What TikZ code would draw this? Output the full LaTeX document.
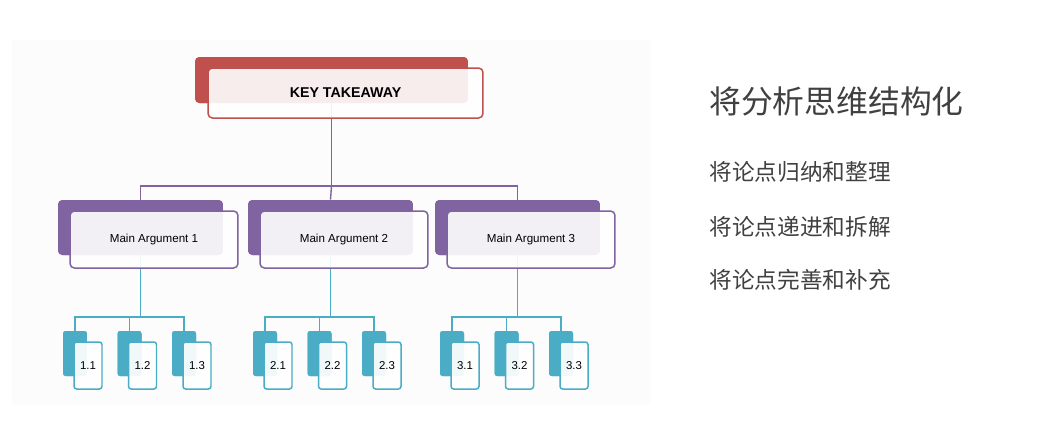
\documentclass[tikz,border=0pt]{standalone}
\usepackage{fontspec}
\setmainfont{Liberation Sans}
\newfontfamily\cjk{Noto Sans CJK SC}
\usetikzlibrary{calc}

\definecolor{keyred}{HTML}{C0504D}
\definecolor{argpurple}{HTML}{8064A2}
\definecolor{subteal}{HTML}{4BACC6}
\definecolor{textgray}{HTML}{404040}

\tikzset{
  box/.style={draw=none, rounded corners=2.5pt, inner sep=0pt, anchor=center},
  keyback/.style={box, fill=keyred, minimum width=5.46cm, minimum height=0.92cm},
  keyfront/.style={box, draw=keyred, line width=0.85pt, fill=white, fill opacity=0.9,
    text opacity=1, minimum width=5.5cm, minimum height=1.0cm,
    font=\fontsize{8.1}{9}\selectfont\bfseries},
  argback/.style={box, fill=argpurple, minimum width=3.3cm, minimum height=1.1cm},
  argfront/.style={box, draw=argpurple, line width=0.85pt, fill=white, fill opacity=0.9,
    text opacity=1, minimum width=3.36cm, minimum height=1.14cm,
    font=\fontsize{6.6}{8}\selectfont},
  subback/.style={box, rounded corners=1.5pt, fill=subteal, minimum width=0.48cm, minimum height=0.9cm},
  subfront/.style={box, rounded corners=1.5pt, draw=subteal, line width=0.85pt, fill=white,
    fill opacity=0.92, text opacity=1, minimum width=0.56cm, minimum height=0.94cm,
    font=\fontsize{6.5}{8}\selectfont},
  purpline/.style={draw=argpurple, line width=0.8pt},
  tealline/.style={draw=subteal, line width=0.8pt},
  sidetext/.style={anchor=west, inner sep=0pt, text=textgray}
}

\begin{document}
\begin{tikzpicture}[x=0.02cm, y=-0.02cm]

\useasboundingbox (0,0) rectangle (1050,434);

% faint backdrop behind the chart
\fill[black!1.2] (12,40) rectangle (650,405);

% top box
\node[keyback] (keyb) at (331.5,80) {};

% main arguments and their points
\foreach \g/\dx in {1/0,2/190,3/377}{
  \node[argback] (m\g b) at (140.5+\dx,227.5) {};
  \coordinate (bus\g) at (140.5+\dx,317);
  \foreach \k/\ex in {1/0,2/54.5,3/109}{
    \node[subback] (s\g\k b) at (75+\dx+\ex,353.5) {};
  }
}

% connectors (drawn under the boxes)
\coordinate (bus) at (keyb.center |- 0,186);
\draw[purpline] (keyb.center) -- (bus);
\draw[purpline] (m1b.north) |- (bus) -| (m3b.north);
\draw[purpline] (bus) -- (m2b.north);
\foreach \g in {1,2,3}{
  \draw[tealline] (m\g b.center) -- (bus\g);
  \draw[tealline] (s\g1b.north) |- (bus\g) -| (s\g3b.north);
  \draw[tealline] (s\g2b.north) -- (s\g2b.north |- bus\g);
}

% back boxes again, on top of the lines
\node[keyback] at (keyb) {};
\foreach \g in {1,2,3}{
  \node[argback] at (m\g b) {};
  \foreach \k in {1,2,3}{
    \node[subback] at (s\g\k b) {};
  }
}

% front boxes
\node[keyfront] (key) at (345.5,93) {KEY TAKEAWAY};
\foreach \g/\dx in {1/0,2/190,3/377}{
  \node[argfront] (m\g) at (154+\dx,239.5) {Main Argument \g};
  \foreach \k/\ex in {1/0,2/54.5,3/109}{
    \node[subfront] (s\g\k) at (88+\dx+\ex,365.5) {\g.\k};
  }
}

% side text
\node[sidetext, font=\cjk\fontsize{18.1}{20}\selectfont] (title) at (709,101) {将分析思维结构化};
\node[sidetext, font=\cjk\fontsize{12.9}{15}\selectfont] (item1) at (709,172) {将论点归纳和整理};
\node[sidetext, font=\cjk\fontsize{12.9}{15}\selectfont] (item2) at (709,227) {将论点递进和拆解};
\node[sidetext, font=\cjk\fontsize{12.9}{15}\selectfont] (item3) at (709,280) {将论点完善和补充};

\end{tikzpicture}
\end{document}
